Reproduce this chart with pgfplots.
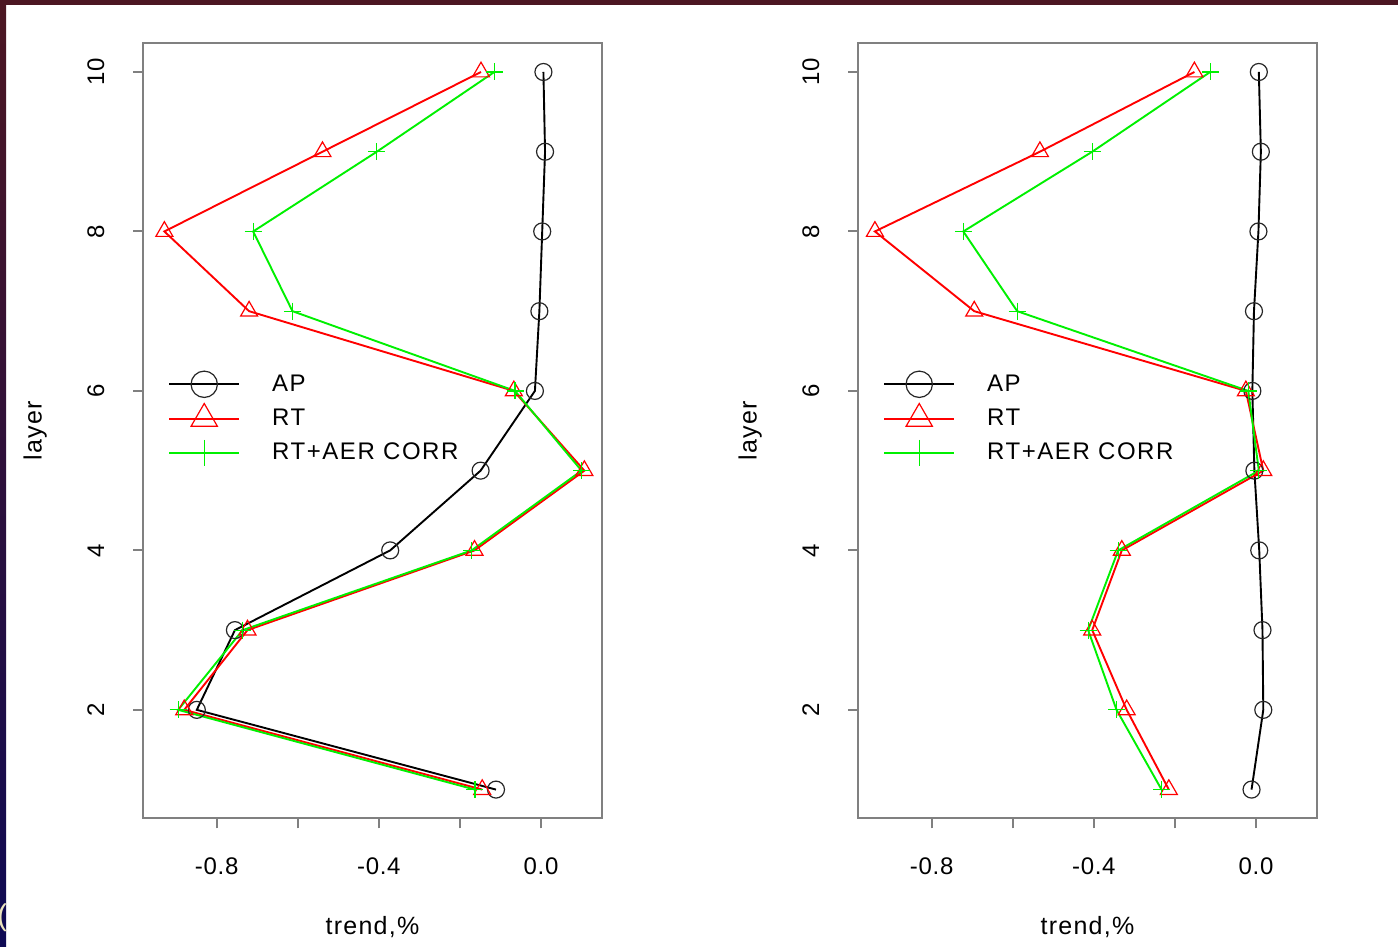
\documentclass[border=0pt]{standalone}
\usepackage{pgfplots}
\pgfplotsset{compat=1.18}
\usepackage{fontspec}
\setmainfont{Liberation Sans}
\definecolor{boxgray}{RGB}{128,128,128}
\definecolor{frametop}{RGB}{76,22,34}
\definecolor{framebot}{RGB}{14,10,84}
\definecolor{rred}{RGB}{255,0,0}
\definecolor{rgreen}{RGB}{0,240,0}

\pgfplotsset{
  rpanel/.style={
    scale only axis, width=229.2pt, height=387.5pt,
    xmin=-0.981, xmax=0.1497, ymin=0.64, ymax=10.36,
    axis line style={boxgray, line width=1pt},
    tick style={boxgray, line width=1pt},
    tick align=outside, major tick length=5pt,
    tick pos=left,
    xtick={-0.8,-0.6,-0.4,-0.2,0},
    xticklabels={-0.8,,-0.4,,0.0},
    ytick={2,4,6,8,10},
    /pgf/number format/assume math mode=true,
    ticklabel style={font=\fontsize{12}{14}\selectfont\addfontfeature{LetterSpace=3}, text=black},
    xticklabel shift=11pt,
    yticklabel style={rotate=90, anchor=south},
    yticklabel shift=11pt,
    xlabel={trend,\%}, ylabel={layer},
    label style={font=\fontsize{12.5}{15}\selectfont\addfontfeature{LetterSpace=5}},
    xlabel style={at={(axis description cs:0.5,-0.1505)}, anchor=base},
    ylabel style={at={(axis description cs:-0.2217,0.5)}, anchor=base},
    legend style={draw=none, fill=none, at={(axis description cs:0.0545,0.5822)},
      anchor=north west, inner sep=0pt, outer sep=0pt, column sep=16pt, row sep=0pt,
      font=\fontsize{12}{14}\selectfont\addfontfeature{LetterSpace=6.5}, cells={anchor=west},
      nodes={inner sep=0pt, minimum height=17.2pt}},
    legend cell align=left,
  },
  rlegimg/.style={legend image code/.code={
      \draw[##1, mark=none] (0pt,0pt) -- (35pt,0pt);
      \draw[##1, /tikz/every mark/.append style={scale=1.55}] plot coordinates {(17.5pt,0pt)};
    }},
  apstyle/.style={black, line width=0.95pt, mark=o, mark size=4.25pt,
    mark options={line width=0.6pt, draw=black!85}, rlegimg},
  rtstyle/.style={rred, line width=0.95pt, mark=triangle, mark size=4.9pt,
    mark options={line width=0.6pt}, rlegimg},
  aerstyle/.style={rgreen, line width=0.95pt, mark=+, mark size=4.25pt,
    mark options={line width=0.6pt}, rlegimg},
}

\begin{document}
\begin{tikzpicture}
\path[use as bounding box] (0pt,0pt) rectangle (699pt,473.5pt);
\fill[white] (0pt,0pt) rectangle (699pt,473.5pt);
\fill[frametop] (0pt,471pt) rectangle (699pt,473.5pt);
\shade[top color=frametop, bottom color=framebot] (0pt,0pt) rectangle (3pt,471pt);
\node[text={rgb,255:red,235;green,228;blue,190}, font=\fontsize{15}{15}\selectfont, inner sep=0pt] at (1.0pt,14.75pt) {(};

% ---------------- left panel ----------------
\begin{axis}[rpanel, at={(71.65pt,64.35pt)}, anchor=south west]
\addplot[apstyle] coordinates {
(0.006,10) (0.010,9) (0.003,8) (-0.004,7) (-0.015,6) (-0.149,5) (-0.372,4) (-0.755,3) (-0.849,2) (-0.111,1)};
\addlegendentry{AP}
\addplot[rtstyle] coordinates {
(-0.148,10) (-0.539,9) (-0.929,8) (-0.720,7) (-0.067,6) (0.107,5) (-0.164,4) (-0.724,3) (-0.880,2) (-0.145,1)};
\addlegendentry{RT}
\addplot[aerstyle] coordinates {
(-0.115,10) (-0.405,9) (-0.710,8) (-0.613,7) (-0.064,6) (0.100,5) (-0.171,4) (-0.736,3) (-0.895,2) (-0.163,1)};
\addlegendentry{RT+AER CORR}
\end{axis}

% ---------------- right panel ----------------
\begin{axis}[rpanel, at={(429.15pt,64.35pt)}, anchor=south west]
\addplot[apstyle] coordinates {
(0.007,10) (0.012,9) (0.006,8) (-0.005,7) (-0.009,6) (-0.004,5) (0.008,4) (0.016,3) (0.018,2) (-0.011,1)};
\addlegendentry{AP}
\addplot[rtstyle] coordinates {
(-0.152,10) (-0.533,9) (-0.940,8) (-0.695,7) (-0.025,6) (0.018,5) (-0.331,4) (-0.404,3) (-0.319,2) (-0.215,1)};
\addlegendentry{RT}
\addplot[aerstyle] coordinates {
(-0.113,10) (-0.404,9) (-0.722,8) (-0.589,7) (-0.019,6) (0.007,5) (-0.340,4) (-0.414,3) (-0.344,2) (-0.233,1)};
\addlegendentry{RT+AER CORR}
\end{axis}
\end{tikzpicture}
\end{document}
